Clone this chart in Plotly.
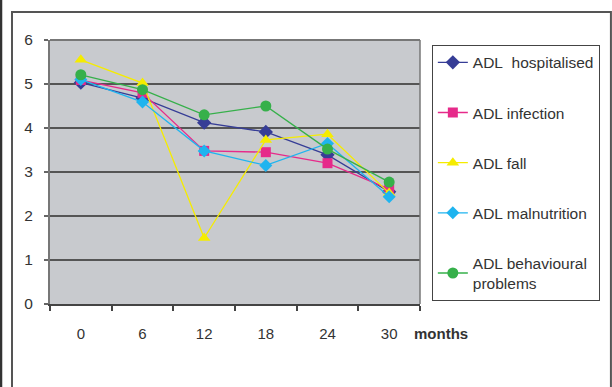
import plotly.graph_objects as go

# Follow-up time points (months)
months = ["0", "6", "12", "18", "24", "30"]

# Mean ADL scores per group
adl_hospitalised = [5.03, 4.68, 4.12, 3.91, 3.39, 2.55]
adl_infection = [5.09, 4.80, 3.48, 3.45, 3.20, 2.61]
adl_fall = [5.55, 5.02, 1.50, 3.73, 3.86, 2.52]
adl_malnutrition = [5.10, 4.59, 3.48, 3.15, 3.65, 2.44]
adl_behavioural = [5.21, 4.87, 4.30, 4.50, 3.52, 2.77]

series_names = [
    "ADL\u00a0\u00a0hospitalised",
    "ADL infection",
    "ADL fall",
    "ADL malnutrition",
    "ADL behavioural<br>problems",
]
series_values = [adl_hospitalised, adl_infection, adl_fall, adl_malnutrition, adl_behavioural]
series_colors = ["#363d96", "#e62a8a", "#f5ec00", "#1fb4ef", "#36b04a"]
series_symbols = ["diamond", "square", "triangle-up", "diamond", "circle"]
series_sizes = [11, 10, 11, 10, 11]

FONT = "Liberation Sans, Arial, sans-serif"

fig = go.Figure()
for i, (name, vals, col, sym, sz) in enumerate(
    zip(series_names, series_values, series_colors, series_symbols, series_sizes)
):
    fig.add_trace(
        go.Scatter(
            x=months,
            y=vals,
            name=name,
            mode="lines+markers",
            line=dict(color=col, width=1.3),
            marker=dict(symbol=sym, size=sz, color=col, line=dict(width=0)),
            legendgroup=f"g{i}",
        )
    )

fig.update_layout(
    width=612,
    height=387,
    margin=dict(l=50, r=192, t=40, b=83),
    paper_bgcolor="white",
    plot_bgcolor="#c8cace",
    font=dict(family=FONT, size=15, color="#333333"),
    showlegend=True,
    legend=dict(
        x=1.032,
        y=0.982,
        xanchor="left",
        yanchor="top",
        bgcolor="white",
        bordercolor="#444444",
        borderwidth=1,
        font=dict(family=FONT, size=15.5, color="#333333"),
        tracegroupgap=27,
        itemwidth=30,
    ),
    xaxis=dict(
        type="category",
        tickson="boundaries",
        ticks="outside",
        ticklen=5,
        tickcolor="#444444",
        tickwidth=1.5,
        showgrid=False,
        showline=True,
        linecolor="#444444",
        linewidth=1.5,
        mirror=False,
        tickfont=dict(family=FONT, size=15, color="#333333"),
        ticklabelstandoff=15,
        range=[-0.5, 5.5],
        fixedrange=True,
    ),
    yaxis=dict(
        range=[0, 6],
        dtick=1,
        ticks="outside",
        ticklen=4,
        tickcolor="#666666",
        tickwidth=1.5,
        showgrid=True,
        gridcolor="#555555",
        gridwidth=1.5,
        showline=True,
        linecolor="#777777",
        linewidth=2,
        zeroline=False,
        tickfont=dict(family=FONT, size=15.5, color="#333333"),
        ticklabelstandoff=8,
        fixedrange=True,
    ),
)

# Top and right edges of the plotting area
fig.add_shape(type="line", xref="paper", yref="paper", x0=0, x1=1, y0=1, y1=1,
              line=dict(color="#777777", width=2))
fig.add_shape(type="line", xref="paper", yref="paper", x0=1, x1=1, y0=0, y1=1,
              line=dict(color="#777777", width=1.5))

# Outer chart frame
fig.add_shape(type="rect", xref="paper", yref="paper",
              x0=-0.1027, x1=1.516, y0=-0.5, y1=1.106,
              line=dict(color="#555555", width=2), fillcolor="rgba(0,0,0,0)", layer="below")

# Page edge on the far left
fig.add_shape(type="line", xref="paper", yref="paper",
              x0=-0.1324, x1=-0.1324, y0=-0.5, y1=1.3,
              line=dict(color="#333333", width=2.5))

# Axis title placed after the last category
fig.add_annotation(text="<b>months</b>", xref="paper", yref="paper",
                   x=0.978, y=-0.11, xanchor="left", yanchor="middle",
                   showarrow=False, font=dict(family=FONT, size=15, color="#333333"))

fig.write_html("out.html")
